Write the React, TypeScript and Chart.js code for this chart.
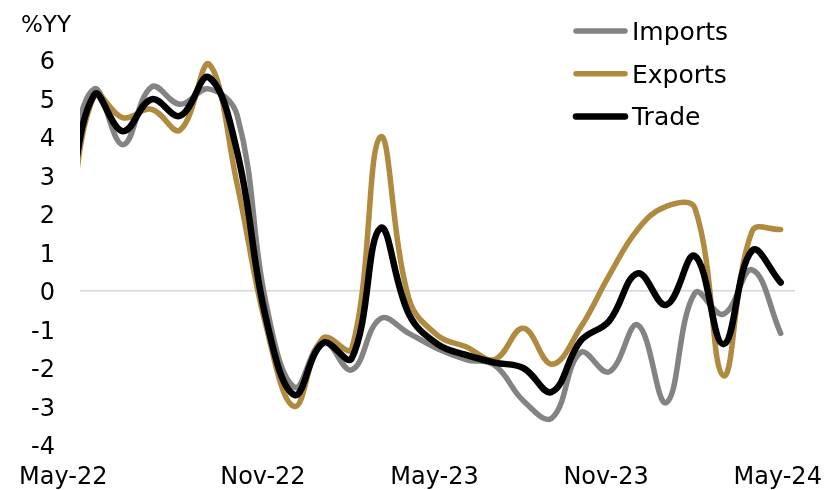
import React, { useEffect, useRef } from 'react';
import { Chart, registerables } from 'chart.js';

Chart.register(...registerables);

// Monthly observations (Apr-22 lies partly outside the visible axis, as in the reference)
const categories = [
  'Apr-22', 'May-22', 'Jun-22', 'Jul-22', 'Aug-22', 'Sep-22', 'Oct-22', 'Nov-22', 'Dec-22',
  'Jan-23', 'Feb-23', 'Mar-23', 'Apr-23', 'May-23', 'Jun-23', 'Jul-23', 'Aug-23', 'Sep-23',
  'Oct-23', 'Nov-23', 'Dec-23', 'Jan-24', 'Feb-24', 'Mar-24', 'Apr-24', 'May-24',
];
const imports = [
  3.0, 5.25, 3.8, 5.3, 4.85, 5.25, 4.55, -0.3, -2.5,
  -1.3, -2.05, -0.72, -1.1, -1.5, -1.78, -1.93, -2.85, -3.3,
  -1.6, -2.1, -0.88, -2.9, -0.05, -0.6, 0.55, -1.1,
];
const exportsSeries = [
  0.9, 5.1, 4.5, 4.72, 4.18, 5.9, 2.75, -0.9, -3.0,
  -1.22, -1.5, 4.0, -0.2, -1.15, -1.45, -1.78, -0.97, -1.9,
  -0.95, 0.4, 1.6, 2.2, 2.15, -2.2, 1.55, 1.6,
];
const trade = [
  1.75, 5.1, 4.15, 4.98, 4.55, 5.55, 3.6, -0.7, -2.7,
  -1.35, -1.75, 1.63, -0.6, -1.38, -1.66, -1.86, -2.0, -2.62,
  -1.3, -0.78, 0.46, -0.36, 0.91, -1.38, 1.05, 0.22,
];
const seriesNames = ['Imports', 'Exports', 'Trade'];
const xTickLabels = ['May-22', 'Nov-22', 'May-23', 'Nov-23', 'May-24'];
const yMin = -4;
const yMax = 6;
const yStep = 1;
const yAxisTitle = '%YY';

const FONT = '"DejaVu Sans", Verdana, sans-serif';
const base = categories.indexOf(xTickLabels[0]);
const lastIndex = categories.length - 1 - base;

const toPoints = (arr: number[]) => arr.map((v, i) => ({ x: i - base, y: v }));

const overlayPlugin = {
  id: 'overlay',
  afterDraw(chart: any) {
    const ctx = chart.ctx;
    const xs = chart.scales.x;
    ctx.save();
    ctx.fillStyle = '#000';
    ctx.textBaseline = 'alphabetic';
    // x tick labels
    ctx.font = `24px ${FONT}`;
    ctx.textAlign = 'center';
    xTickLabels.forEach((lab, k) => {
      const px = xs.getPixelForValue(categories.indexOf(lab) - base);
      ctx.fillText(lab, px + (k === 0 ? -31 : -3), 484);
    });
    // y axis title
    ctx.font = `23px ${FONT}`;
    ctx.textAlign = 'left';
    ctx.fillText(yAxisTitle, 21, 32);
    // legend
    chart.data.datasets.forEach((ds: any, i: number) => {
      const y = 31 + i * 42.7;
      ctx.strokeStyle = ds.borderColor;
      ctx.lineWidth = ds.borderWidth;
      ctx.lineCap = 'round';
      ctx.beginPath();
      ctx.moveTo(576, y);
      ctx.lineTo(625, y);
      ctx.stroke();
      ctx.font = `25px ${FONT}`;
      ctx.fillStyle = '#000';
      ctx.fillText(ds.label, 632, y + 9);
    });
    ctx.restore();
  },
};

export default function App() {
  const ref = useRef<HTMLCanvasElement | null>(null);

  useEffect(() => {
    document.body.style.margin = '0';
    const canvas = ref.current;
    if (!canvas) return;
    const common = {
      fill: false,
      pointRadius: 0,
      pointHoverRadius: 0,
      tension: 0.4,
      borderCapStyle: 'round',
      borderJoinStyle: 'round',
      clip: { left: 0, top: false, right: false, bottom: false },
    };
    const chart = new Chart(canvas, {
      type: 'line',
      data: {
        datasets: [
          { ...common, label: seriesNames[0], data: toPoints(imports), borderColor: '#838383', borderWidth: 5.5, order: 2 },
          { ...common, label: seriesNames[1], data: toPoints(exportsSeries), borderColor: '#B08A3E', borderWidth: 5.5, order: 1 },
          { ...common, label: seriesNames[2], data: toPoints(trade), borderColor: '#000000', borderWidth: 6.5, order: 0 },
        ] as any,
      },
      options: {
        animation: false,
        responsive: false,
        devicePixelRatio: 1,
        layout: { padding: { top: 60, right: 43, bottom: 45, left: 0 } },
        plugins: { legend: { display: false }, tooltip: { enabled: false } },
        scales: {
          x: {
            type: 'linear',
            min: -0.5,
            max: lastIndex + 0.5,
            display: false,
          },
          y: {
            min: yMin,
            max: yMax,
            afterFit: (scale: any) => { scale.width = 80; },
            border: { display: false },
            grid: {
              drawTicks: false,
              lineWidth: 1.5,
              color: (c: any) => (c.tick && c.tick.value === 0 ? '#d6d6d6' : 'rgba(0,0,0,0)'),
            },
            ticks: {
              stepSize: yStep,
              padding: 25,
              labelOffset: 3,
              color: '#000',
              font: { family: FONT, size: 24 },
            },
          },
        },
      } as any,
      plugins: [overlayPlugin],
    });
    return () => chart.destroy();
  }, []);

  return (
    <div style={{ width: 838, height: 490, position: 'relative', background: '#fff' }}>
      <canvas ref={ref} width={838} height={490} />
    </div>
  );
}
